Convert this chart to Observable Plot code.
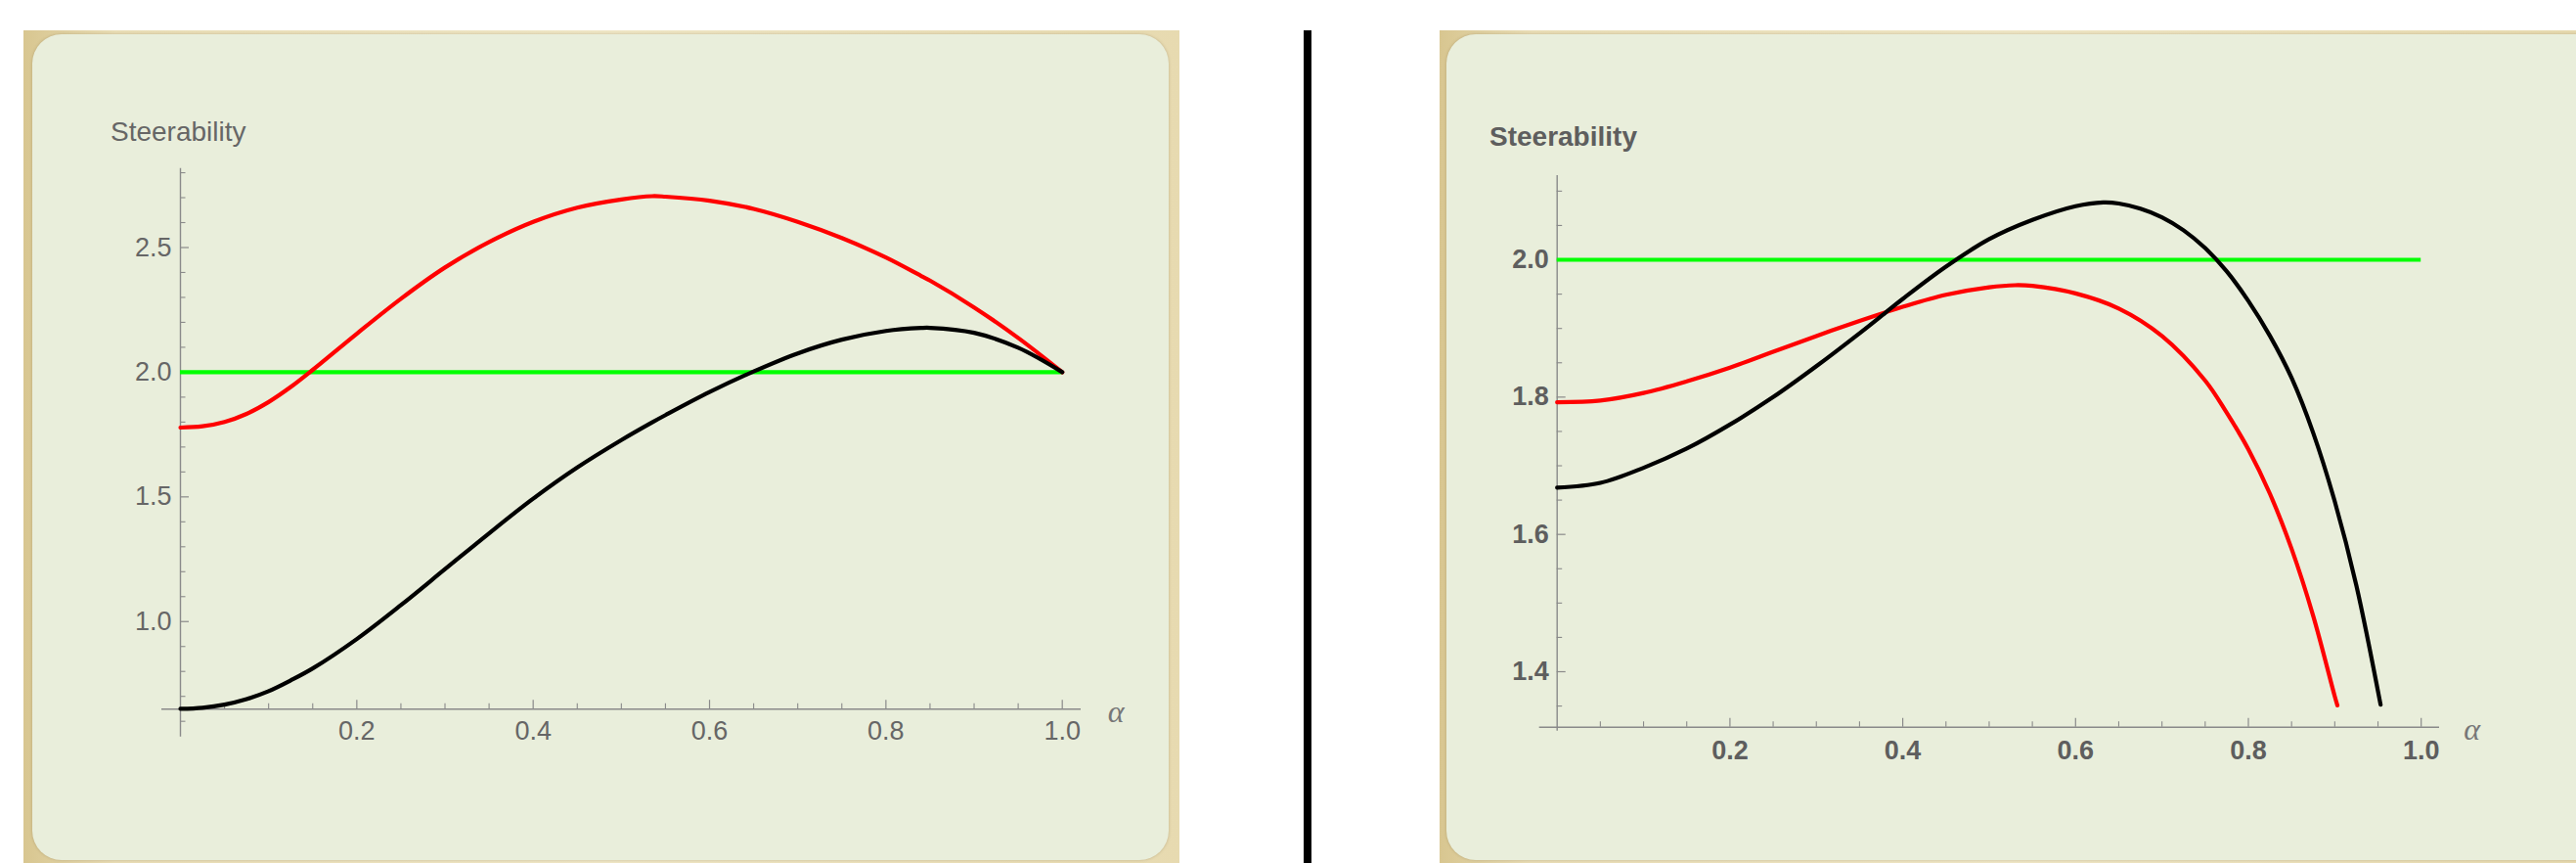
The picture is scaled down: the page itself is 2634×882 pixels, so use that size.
<!DOCTYPE html>
<html>
<head>
<meta charset="utf-8">
<script src="https://cdn.jsdelivr.net/npm/d3@7"></script>
<script src="https://cdn.jsdelivr.net/npm/@observablehq/plot@0.6"></script>
<style>
  html, body { margin: 0; padding: 0; background: #ffffff; }
  body { width: 2634px; height: 882px; position: relative; overflow: hidden; font-family: "Liberation Sans", Arial, sans-serif; }
  .outer { position: absolute; background: linear-gradient(90deg, #d8c690 0%, #e9ddb6 8%, #efe6c6 50%, #e7dab0 100%); }
  .inner { position: absolute; background: #e9eedb; border-radius: 30px; box-shadow: 0 0 3px rgba(120,100,60,0.35); }
  .bar { position: absolute; background: #000; }
  .plot { position: absolute; }
  .plot svg { overflow: visible; }
  .ylab { position: absolute; white-space: nowrap; line-height: 40px; font-size: 28px; }
</style>
</head>
<body>
<div class="outer" style="left:24px;top:31px;width:1182px;height:851px;"></div>
<div class="inner" style="left:33px;top:35px;width:1162px;height:844px;"></div>
<div class="bar" style="left:1333px;top:31px;width:8px;height:851px;"></div>
<div class="outer" style="left:1472px;top:31px;width:1162px;height:851px;"></div>
<div class="inner" style="left:1479px;top:35px;width:1200px;height:844px;"></div>
<div id="leftPlot" class="plot" style="left:33px;top:35px;"></div>
<div id="rightPlot" class="plot" style="left:1479px;top:35px;"></div>
<div class="ylab" style="left:113px;top:115px;color:#666;">Steerability</div>
<div class="ylab" style="left:1523px;top:120px;color:#5e5e5e;font-weight:bold;">Steerability</div>
<script>
// ---------------- DATA ----------------
// Left panel
const leftAlpha = [0, 0.025, 0.05, 0.075, 0.1, 0.125, 0.15, 0.2, 0.25, 0.3, 0.35, 0.4, 0.45, 0.5, 0.535, 0.55, 0.6, 0.65, 0.7, 0.75, 0.8, 0.84, 0.85, 0.9, 0.95, 1.0];
const leftRed   = [1.778, 1.783, 1.8005, 1.833, 1.8805, 1.9405, 2.0095, 2.1545, 2.2945, 2.420, 2.522, 2.603, 2.660, 2.693, 2.706, 2.704, 2.688, 2.655, 2.603, 2.538, 2.460, 2.386, 2.3675, 2.260, 2.1375, 2.0];
const leftBlack = [0.650, 0.6545, 0.667, 0.689, 0.721, 0.764, 0.812, 0.930, 1.066, 1.210, 1.354, 1.493, 1.618, 1.728, 1.799, 1.828, 1.9205, 2.003, 2.0755, 2.1305, 2.1655, 2.1775, 2.178, 2.158, 2.098, 2.0];
const leftGreen = 2.0;
const leftXMajor = [0.2, 0.4, 0.6, 0.8, 1.0];
const leftXMinor = [0.05, 0.1, 0.15, 0.25, 0.3, 0.35, 0.45, 0.5, 0.55, 0.65, 0.7, 0.75, 0.85, 0.9, 0.95];
const leftYMajor = [1.0, 1.5, 2.0, 2.5];
const leftYMinor = [0.6, 0.7, 0.8, 0.9, 1.1, 1.2, 1.3, 1.4, 1.6, 1.7, 1.8, 1.9, 2.1, 2.2, 2.3, 2.4, 2.6, 2.7, 2.8];
const leftYRange = [0.649, 2.817];   // axes origin and plot-range top

// Right panel
const rightRedAlpha = [0, 0.05, 0.1, 0.15, 0.2, 0.25, 0.3, 0.35, 0.38, 0.4, 0.45, 0.5, 0.53, 0.55, 0.6, 0.65, 0.7, 0.75, 0.775, 0.8, 0.825, 0.85, 0.875, 0.9, 0.903];
const rightRed      = [1.7925, 1.795, 1.806, 1.823, 1.843, 1.866, 1.889, 1.911, 1.9235, 1.9315, 1.949, 1.960, 1.963, 1.962, 1.951, 1.929, 1.889, 1.824, 1.777, 1.724, 1.659, 1.579, 1.4815, 1.364, 1.351];
const rightBlackAlpha = [0, 0.05, 0.1, 0.15, 0.2, 0.25, 0.3, 0.35, 0.38, 0.4, 0.45, 0.5, 0.55, 0.6, 0.632, 0.65, 0.675, 0.7, 0.725, 0.75, 0.775, 0.8, 0.825, 0.85, 0.875, 0.9, 0.925, 0.953];
const rightBlack      = [1.668, 1.675, 1.697, 1.725, 1.760, 1.800, 1.845, 1.893, 1.923, 1.943, 1.990, 2.030, 2.058, 2.078, 2.0835, 2.082, 2.0745, 2.062, 2.043, 2.017, 1.983, 1.940, 1.889, 1.828, 1.748, 1.648, 1.5255, 1.352];
const rightGreen = 2.0;
const rightXMajor = [0.2, 0.4, 0.6, 0.8, 1.0];
const rightXMinor = [0.05, 0.1, 0.15, 0.25, 0.3, 0.35, 0.45, 0.5, 0.55, 0.65, 0.7, 0.75, 0.85, 0.9, 0.95];
const rightYMajor = [1.4, 1.6, 1.8, 2.0];
const rightYMinor = [1.35, 1.45, 1.5, 1.55, 1.65, 1.7, 1.75, 1.85, 1.9, 1.95, 2.05, 2.1];
const rightYRange = [1.3192, 2.1226];

// ---------------- DRAWING ----------------
function panel(cfg) {
  const pw = cfg.width - cfg.marginLeft - cfg.marginRight;
  const ph = cfg.height - cfg.marginTop - cfg.marginBottom;
  const [y0, y1] = cfg.yRange;
  const dxU = 1 / pw;               // data units per pixel along x
  const dyU = (y1 - y0) / ph;        // data units per pixel along y
  const axisColor = "#8a8a8a";
  const red = cfg.alpha.red.map((a, i) => ({a, v: cfg.values.red[i]}));
  const black = cfg.alpha.black.map((a, i) => ({a, v: cfg.values.black[i]}));
  const font = {fontFamily: "Liberation Sans, Arial, sans-serif", fontSize: cfg.fontSize, fontWeight: cfg.fontWeight, fill: cfg.textColor};
  const sw = 4.2;
  return Plot.plot({
    width: cfg.width, height: cfg.height,
    marginLeft: cfg.marginLeft, marginRight: cfg.marginRight, marginTop: cfg.marginTop, marginBottom: cfg.marginBottom,
    x: {domain: [0, 1], axis: null},
    y: {domain: [y0, y1], axis: null},
    style: {background: "transparent", overflow: "visible"},
    marks: [
      // axes lines
      Plot.ruleY([y0], {x1: -cfg.xAxisLeftPx * dxU, x2: 1 + cfg.xAxisRightPx * dxU, stroke: axisColor, strokeWidth: 1.4}),
      Plot.ruleX([0], {y1: y0 - cfg.yAxisBelowPx * dyU, y2: y1, stroke: axisColor, strokeWidth: 1.4}),
      // ticks
      Plot.ruleX(cfg.xMajor, {x: d => d, y1: y0, y2: y0 + 9 * dyU, stroke: axisColor, strokeWidth: 1.2}),
      Plot.ruleX(cfg.xMinor, {x: d => d, y1: y0, y2: y0 + 5.5 * dyU, stroke: axisColor, strokeWidth: 1.1}),
      Plot.ruleY(cfg.yMajor, {y: d => d, x1: 0, x2: 9 * dxU, stroke: axisColor, strokeWidth: 1.2}),
      Plot.ruleY(cfg.yMinor, {y: d => d, x1: 0, x2: 5.5 * dxU, stroke: axisColor, strokeWidth: 1.1}),
      // tick labels
      Plot.text(cfg.xMajor, {x: d => d, y: y0, dy: cfg.xLabelDy, text: d => d.toFixed(1), ...font}),
      Plot.text(cfg.yMajor, {x: 0, y: d => d, dx: cfg.yLabelDx, textAnchor: "end", text: d => d.toFixed(1), ...font}),
      Plot.text(["α"], {x: 1, y: y0, dx: cfg.alphaDx, dy: 3, text: d => d, fontStyle: "italic", fontFamily: "Liberation Serif, DejaVu Serif, serif", fontSize: 32, fill: "#777"}),
      // curves
      Plot.ruleY([cfg.values.green], {x1: 0, x2: 1, stroke: "#00ff00", strokeWidth: sw}),
      Plot.line(red, {x: "a", y: "v", stroke: "#ff0000", strokeWidth: sw, curve: "catmull-rom"}),
      Plot.line(black, {x: "a", y: "v", stroke: "#000000", strokeWidth: sw, curve: "catmull-rom"})
    ]
  });
}

document.getElementById("leftPlot").appendChild(panel({
  width: 1162, height: 844, marginLeft: 151, marginRight: 109.3, marginTop: 136.7, marginBottom: 154.8,
  yRange: leftYRange,
  alpha: {red: leftAlpha, black: leftAlpha},
  values: {red: leftRed, black: leftBlack, green: leftGreen},
  xMajor: leftXMajor, xMinor: leftXMinor, yMajor: leftYMajor, yMinor: leftYMinor,
  xAxisLeftPx: 19, xAxisRightPx: 19.3, yAxisBelowPx: 28.5,
  fontSize: 27, fontWeight: "normal", textColor: "#666666",
  xLabelDy: 23, yLabelDx: -9, alphaDx: 55
}));

document.getElementById("rightPlot").appendChild(panel({
  width: 1155, height: 844, marginLeft: 112.7, marginRight: 158.8, marginTop: 144, marginBottom: 136.3,
  yRange: rightYRange,
  alpha: {red: rightRedAlpha, black: rightBlackAlpha},
  values: {red: rightRed, black: rightBlack, green: rightGreen},
  xMajor: rightXMajor, xMinor: rightXMinor, yMajor: rightYMajor, yMinor: rightYMinor,
  xAxisLeftPx: 18, xAxisRightPx: 18.8, yAxisBelowPx: 4,
  fontSize: 27, fontWeight: "bold", textColor: "#5e5e5e",
  xLabelDy: 24, yLabelDx: -8.5, alphaDx: 52
}));
</script>
</body>
</html>
